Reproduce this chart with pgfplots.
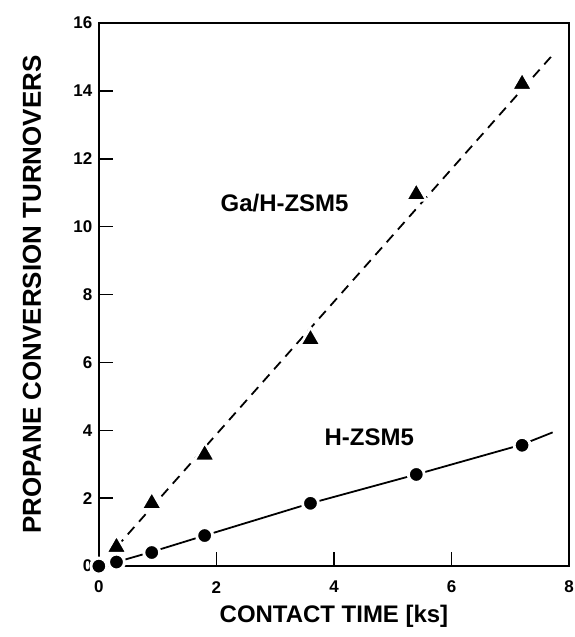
\documentclass[border=0pt]{standalone}
\usepackage{fontspec}
\setmainfont{Liberation Sans}
\usepackage{pgfplots}
\pgfplotsset{compat=1.18}
\begin{document}
\begin{tikzpicture}
\useasboundingbox (-99pt,-71pt) rectangle (476pt,567pt);
\begin{axis}[
  scale only axis,
  width=471pt, height=544pt,
  xmin=0, xmax=8, ymin=0, ymax=16,
  xtick={0,2,4,6,8}, ytick={0,2,4,6,8,10,12,14,16},
  xtick pos=bottom, ytick pos=left,
  tick align=inside,
  major tick length=14pt,
  every tick/.style={black, line width=1.6pt},
  axis line style={line width=2.2pt},
  /pgf/number format/assume math mode=true,
  xticklabel={\fontsize{17}{19}\selectfont\bfseries\pgfmathprintnumber{\tick}},
  yticklabel={\fontsize{17}{19}\selectfont\bfseries\pgfmathprintnumber{\tick}},
  xticklabel style={anchor=center, yshift=-21pt},
  yticklabel style={anchor=east, xshift=-3pt},
  xlabel={CONTACT TIME [ks]},
  ylabel={PROPANE CONVERSION TURNOVERS},
  xlabel style={font=\fontsize{24}{26}\selectfont\bfseries, at={(axis description cs:0.5,-0.0919)}, anchor=center},
  ylabel style={font=\fontsize{26}{28}\selectfont\bfseries, at={(axis description cs:-0.1423,0.5)}, anchor=center},
  clip=false,
]
% Ga/H-ZSM5 fit line
\addplot[black, line width=1.8pt, dash pattern=on 10pt off 7pt] coordinates {(0.3,0.56) (7.69,15.0)};
% H-ZSM5 line
\addplot[black, line width=1.8pt] coordinates {(0.3,0.12) (0.9,0.42) (1.8,0.9) (3.6,1.85) (5.4,2.7) (7.2,3.58) (7.72,3.94)};
% Ga/H-ZSM5 data
\addplot[only marks, mark=triangle*, mark size=12pt, mark options={fill=black, draw=white, line width=2.5pt, line join=round}] coordinates {
(0.3,0.56) (0.9,1.85) (1.8,3.28) (3.6,6.68) (5.4,10.95) (7.2,14.2)};
% H-ZSM5 data
\addplot[only marks, mark=*, mark size=8pt, mark options={fill=black, draw=white, line width=3pt}] coordinates {
(0,0) (0.3,0.12) (0.9,0.4) (1.8,0.9) (3.6,1.85) (5.4,2.7) (7.2,3.56)};
\node[font=\fontsize{24}{26}\selectfont\bfseries] at (axis cs:3.16,10.7) {Ga/H-ZSM5};
\node[font=\fontsize{24}{26}\selectfont\bfseries] at (axis cs:4.6,3.8) {H-ZSM5};
\end{axis}
\end{tikzpicture}
\end{document}
